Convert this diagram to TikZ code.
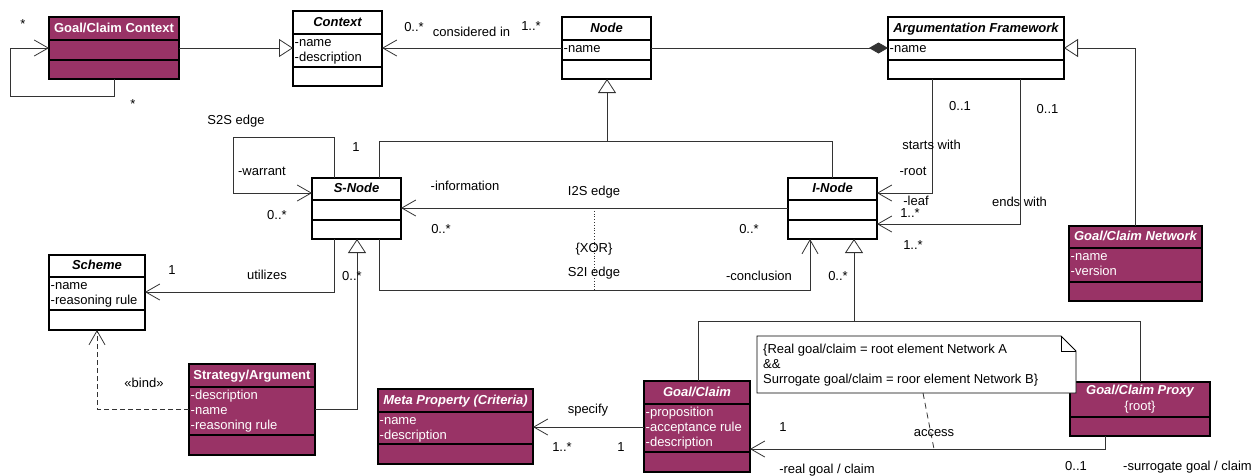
\documentclass[tikz,border=0pt]{standalone}
\usepackage{fontspec}
\setmainfont{Liberation Sans}
\usetikzlibrary{arrows.meta,calc}
\definecolor{umlpurple}{HTML}{993366}
\definecolor{linec}{HTML}{333333}
\tikzset{
 boxst/.style={draw=black, line width=1.1pt, inner sep=0pt, outer sep=0pt, rectangle},
 divst/.style={draw=black, line width=1.1pt},
 txt/.style={font=\fontsize{13}{15}\selectfont, inner sep=0pt, text height=9.5pt, text depth=2.5pt},
 ttl/.style={txt, font=\fontsize{13}{15}\selectfont\bfseries\itshape},
 ttlup/.style={txt, font=\fontsize{13}{15}\selectfont\bfseries},
 attr/.style={txt, anchor=base west},
 wt/.style={text=white},
 conn/.style={draw=linec, line width=0.8pt},
 assoc/.style={conn, -{Straight Barb[length=14pt,width=16pt]}},
 gen/.style={conn, -{Triangle[open,length=14pt,width=18pt,fill=white]}},
 comp/.style={conn, -{Diamond[length=19pt,width=11pt]}},
 notest/.style={draw=black, line width=0.8pt, fill=white},
}
% name, x1, y1, x2, y2, fill
\newcommand{\umlbox}[6]{%
 \node[boxst, fill=#6, anchor=north west, minimum width={#4-#2}, minimum height={#5-#3}] (#1) at (#2,#3) {};}
\newcommand{\umldiv}[2]{\draw[divst] (#1.west |- 0,#2) -- (#1.east |- 0,#2);}
\begin{document}
\begin{tikzpicture}[x=1pt,y=-1pt]
\useasboundingbox (0,0) rectangle (1260,475);

% ---------- boxes ----------
\umlbox{gcc}{49}{17}{179}{79}{umlpurple}\umldiv{gcc}{40}\umldiv{gcc}{60}
\node[ttlup,wt] (gcct) at (114,28.5) {Goal/Claim Context};

\umlbox{ctx}{293}{11}{382}{86}{white}\umldiv{ctx}{34}\umldiv{ctx}{67}
\node[ttl] (ctxt) at (337.5,22.5) {Context};
\node[attr] (ctxa1) at (294.5,46) {-name};
\node[attr] (ctxa2) at (294.5,61) {-description};

\umlbox{nd}{562}{17}{651}{79}{white}\umldiv{nd}{40}\umldiv{nd}{60}
\node[ttl] (ndt) at (606.5,28.5) {Node};
\node[attr] (nda1) at (563.5,52) {-name};

\umlbox{af}{888}{17}{1064}{79}{white}\umldiv{af}{40}\umldiv{af}{60}
\node[ttl] (aft) at (976,28.5) {Argumentation Framework};
\node[attr] (afa1) at (889.5,52) {-name};

\umlbox{gcn}{1069}{226}{1202}{301}{umlpurple}\umldiv{gcn}{248}\umldiv{gcn}{282}
\node[ttl,wt] (gcnt) at (1135.5,237) {Goal/Claim Network};
\node[attr,wt] (gcna1) at (1070.5,260) {-name};
\node[attr,wt] (gcna2) at (1070.5,275) {-version};

\umlbox{sn}{312}{178}{401}{239}{white}\umldiv{sn}{200}\umldiv{sn}{220}
\node[ttl] (snt) at (356.5,189) {S-Node};

\umlbox{in}{788}{178}{877}{239}{white}\umldiv{in}{200}\umldiv{in}{220}
\node[ttl] (int) at (832.5,189) {I-Node};

\umlbox{sch}{49}{255}{145}{330}{white}\umldiv{sch}{277}\umldiv{sch}{310}
\node[ttl] (scht) at (97,266) {Scheme};
\node[attr] (scha1) at (50.5,289) {-name};
\node[attr] (scha2) at (50.5,304) {-reasoning rule};

\umlbox{sa}{189}{364}{315}{455}{umlpurple}\umldiv{sa}{387}\umldiv{sa}{435}
\node[ttlup,wt] (sat) at (252,375.5) {Strategy/Argument};
\node[attr,wt] (saa1) at (190.5,399) {-description};
\node[attr,wt] (saa2) at (190.5,414) {-name};
\node[attr,wt] (saa3) at (190.5,429) {-reasoning rule};

\umlbox{mp}{378}{389}{533}{464}{umlpurple}\umldiv{mp}{412}\umldiv{mp}{444}
\node[ttl,wt] (mpt) at (455.5,400.5) {Meta Property (Criteria)};
\node[attr,wt] (mpa1) at (379.5,424) {-name};
\node[attr,wt] (mpa2) at (379.5,439) {-description};

\umlbox{gc}{644}{381}{750}{472}{umlpurple}\umldiv{gc}{404}\umldiv{gc}{452}
\node[ttl,wt] (gct) at (697,392.5) {Goal/Claim};
\node[attr,wt] (gca1) at (645.5,416) {-proposition};
\node[attr,wt] (gca2) at (645.5,431) {-acceptance rule};
\node[attr,wt] (gca3) at (645.5,446) {-description};

\umlbox{gcp}{1070}{382}{1210}{436}{umlpurple}\umldiv{gcp}{417}
\node[ttl,wt] (gcpt) at (1140,391) {Goal/Claim Proxy};
\node[txt,wt] (gcpr) at (1140,407) {\{root\}};

% ---------- connectors ----------
\draw[assoc] (gcc.south -| 114,0) |- (10,96) |- (gcc.west |- 0,48);
\draw[gen] (gcc.east |- 0,48) -- (ctx.west |- 0,48);
\draw[assoc] (nd.west |- 0,48) -- (ctx.east |- 0,48);
\draw[comp] (nd.east |- 0,48) -- (af.west |- 0,48);
\draw[gen] (gcn.north -| 1135,0) |- (af.east |- 0,48);
\draw[assoc] (af.south -| 932,0) |- (in.east |- 0,193);
\draw[assoc] (af.south -| 1020,0) |- (in.east |- 0,224);

\coordinate (j1) at (607,141);
\draw[conn] (sn.north -| 379,0) |- (832,141) -- (in.north -| 832,0);
\draw[gen] (j1) -- (nd.south -| j1);

\draw[assoc] (sn.north -| 334,0) |- (233,137) |- (sn.west |- 0,193);
\draw[assoc] (in.west |- 0,208) -- (sn.east |- 0,208);
\draw[assoc] (sn.south -| 379,0) |- (810,290) -- (in.south -| 810,0);
\coordinate (xa) at (594,208);
\coordinate (xb) at (594,290);
\draw[conn, dotted] (xa) -- (xb);
\draw[assoc] (sn.south -| 334,0) |- (sch.east |- 0,292);
\draw[gen] (sa.east |- 0,409) -| (sn.south -| 357,0);
\draw[assoc, dash pattern=on 5pt off 3pt] (sa.west |- 0,409) -| (sch.south -| 97,0);

\coordinate (j2) at (854,321);
\draw[conn] (gc.north -| 698,0) |- (1140,321) -- (gcp.north -| 1140,0);
\draw[gen] (j2) -- (in.south -| j2);

\draw[assoc] (gc.west |- 0,427) -- (mp.east |- 0,427);
\draw[assoc] (gcp.south -| 1105,0) |- (gc.east |- 0,449);

% ---------- note ----------
\node[anchor=north west, minimum width=319, minimum height=57, inner sep=0pt, outer sep=0pt] (note) at (757,336) {};
\draw[notest] (note.north west) -- ($(note.north east)+(-15,0)$) -- ($(note.north east)+(0,15)$) -- (note.south east) -- (note.south west) -- cycle;
\draw[notest, fill=none] ($(note.north east)+(-15,0)$) -- ($(note.north east)+(-15,15)$) -- ($(note.north east)+(0,15)$);
\node[attr] (nt1) at (763,353) {\{Real goal/claim = root element Network A};
\node[attr] (nt2) at (763,368) {\&\&};
\node[attr] (nt3) at (763,383) {Surrogate goal/claim = roor element Network B\}};
\coordinate (acc) at (934,449);
\draw[conn, dash pattern=on 6pt off 4pt] (note.south -| 923,0) -- (acc);

% ---------- labels ----------
\node[txt] (l1) at (23,25) {*};
\node[txt] (l2) at (133,105) {*};
\node[txt] (l3) at (414,28) {0..*};
\node[txt] (l4) at (471.5,33) {considered in};
\node[txt] (l5) at (531,27) {1..*};
\node[txt] (l6) at (236,121) {S2S edge};
\node[txt] (l7) at (356,148) {1};
\node[txt] (l8) at (262,172) {-warrant};
\node[txt] (l9) at (277,216) {0..*};
\node[txt] (l10) at (465,187) {-information};
\node[txt] (l11) at (594,192) {I2S edge};
\node[txt] (l12) at (441,230) {0..*};
\node[txt] (l13) at (749,230) {0..*};
\node[txt] (l14) at (594,249) {\{XOR\}};
\node[txt] (l15) at (594,273) {S2I edge};
\node[txt] (l16) at (759,277) {-conclusion};
\node[txt] (l17) at (838,277) {0..*};
\node[txt] (l18) at (960,107) {0..1};
\node[txt] (l19) at (1047.5,110) {0..1};
\node[txt] (l20) at (931.5,146) {starts with};
\node[txt] (l21) at (913,172) {-root};
\node[txt] (l22) at (916,202) {-leaf};
\node[txt] (l23) at (1019.5,203) {ends with};
\node[txt] (l24) at (910,214) {1..*};
\node[txt] (l25) at (913,246) {1..*};
\node[txt] (l26) at (172,271) {1};
\node[txt] (l27) at (267,276) {utilizes};
\node[txt] (l28) at (352,277) {0..*};
\node[txt] (l29) at (144,384) {«bind»};
\node[txt] (l30) at (588,410) {specify};
\node[txt] (l31) at (562,448) {1..*};
\node[txt] (l32) at (621,448) {1};
\node[txt] (l33) at (783,428) {1};
\node[txt] (l34) at (934,433) {access};
\node[txt] (l35) at (827,470) {-real goal / claim};
\node[txt] (l36) at (1076,467) {0..1};
\node[txt] (l37) at (1187.5,467) {-surrogate goal / claim};
\end{tikzpicture}
\end{document}
